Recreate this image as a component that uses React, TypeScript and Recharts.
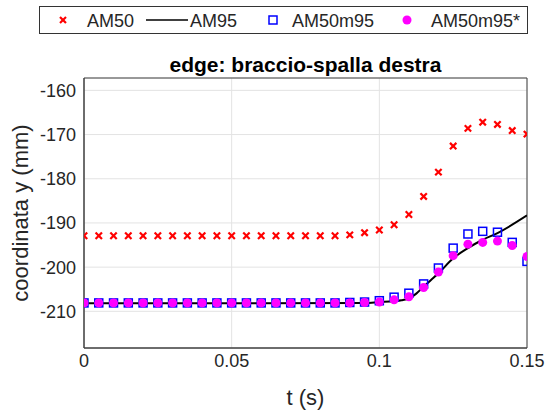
import React from "react";
import {
  ComposedChart,
  Line,
  Scatter,
  XAxis,
  YAxis,
  CartesianGrid,
  ReferenceArea,
} from "recharts";

// time samples (s)
const tValues = [
  0, 0.005, 0.01, 0.015, 0.02, 0.025, 0.03, 0.035, 0.04, 0.045, 0.05, 0.055,
  0.06, 0.065, 0.07, 0.075, 0.08, 0.085, 0.09, 0.095, 0.1, 0.105, 0.11, 0.115,
  0.12, 0.125, 0.13, 0.135, 0.14, 0.145, 0.15,
];

const am50 = [
  -192.9, -192.9, -192.9, -192.9, -192.9, -192.9, -192.9, -192.9, -192.9,
  -192.9, -192.9, -192.9, -192.9, -192.9, -192.9, -192.9, -192.9, -192.9,
  -192.7, -192.2, -191.6, -190.4, -188.1, -184.0, -178.5, -172.6, -168.6,
  -167.2, -167.7, -169.1, -169.9,
];

const am50m95 = [
  -208.1, -208.1, -208.1, -208.1, -208.1, -208.1, -208.1, -208.1, -208.1,
  -208.1, -208.1, -208.1, -208.1, -208.1, -208.1, -208.1, -208.1, -208.1,
  -208.0, -207.9, -207.6, -206.8, -205.9, -203.8, -200.2, -195.7, -192.5,
  -191.9, -192.1, -194.4, -198.7,
];

const am50m95star = [
  -208.1, -208.1, -208.1, -208.1, -208.1, -208.1, -208.1, -208.1, -208.1,
  -208.1, -208.1, -208.1, -208.1, -208.1, -208.1, -208.1, -208.1, -208.1,
  -208.1, -208.0, -207.9, -207.4, -206.7, -204.6, -201.1, -197.4, -194.8,
  -194.4, -194.1, -195.1, -197.6,
];

// AM95 is a continuous curve
const tLine = [
  0, 0.05, 0.095, 0.1, 0.105, 0.1075, 0.11, 0.1125, 0.115, 0.1175, 0.12, 0.125,
  0.13, 0.135, 0.14, 0.145, 0.15,
];
const am95 = [
  -208.2, -208.2, -208.1, -207.9, -207.7, -207.5, -207.1, -206.0, -204.4,
  -202.9, -201.4, -198.0, -195.7, -193.8, -192.3, -190.4, -188.3,
];

const xTicks = [0, 0.05, 0.1, 0.15];
const yTicks = [-210, -200, -190, -180, -170, -160];

const toPoints = (xs: number[], ys: number[]) =>
  xs.map((x, i) => ({ x, y: ys[i] }));

const am50Data = toPoints(tValues, am50);
const am50m95Data = toPoints(tValues, am50m95);
const starData = toPoints(tValues, am50m95star);
const am95Data = toPoints(tLine, am95);

const FONT = "'Liberation Sans', Arial, sans-serif";
const TXT = "#262626";

const Cross = (props: any) => {
  const { cx, cy } = props;
  const s = 3.2;
  return (
    <g stroke="#ff0000" strokeWidth={2.2}>
      <line x1={cx - s} y1={cy - s} x2={cx + s} y2={cy + s} />
      <line x1={cx - s} y1={cy + s} x2={cx + s} y2={cy - s} />
    </g>
  );
};

const Square = (props: any) => {
  const { cx, cy } = props;
  return (
    <rect
      x={cx - 4}
      y={cy - 4}
      width={8}
      height={8}
      fill="none"
      stroke="#0000ff"
      strokeWidth={1.5}
    />
  );
};

const Dot = (props: any) => {
  const { cx, cy } = props;
  return <circle cx={cx} cy={cy} r={4.5} fill="#ff00ff" />;
};

export default function App() {
  return (
    <div
      style={{
        position: "absolute",
        left: 0,
        top: 0,
        width: 549,
        height: 414,
        background: "#fff",
        fontFamily: FONT,
        color: TXT,
      }}
    >
      <ComposedChart
        width={549}
        height={414}
        margin={{ top: 78, right: 22, bottom: 0, left: 0 }}
      >
        <CartesianGrid stroke="#e3e3e3" vertical horizontal />
        <XAxis
          type="number"
          dataKey="x"
          domain={[0, 0.15]}
          ticks={xTicks}
          tickFormatter={(v) => String(v)}
          height={66}
          tickLine={false}
          tickSize={4}
          tickMargin={2}
          axisLine={{ stroke: "#404040" }}
          tick={{ fill: TXT, fontSize: 18, fontFamily: FONT }}
          allowDataOverflow
        />
        <YAxis
          type="number"
          dataKey="y"
          domain={[-218.3, -157.2]}
          ticks={yTicks}
          width={84}
          tickLine={false}
          tickSize={4}
          tickMargin={4}
          axisLine={{ stroke: "#404040" }}
          tick={{ fill: TXT, fontSize: 18, fontFamily: FONT }}
          allowDataOverflow
        />
        <ReferenceArea
          x1={0}
          x2={0.15}
          y1={-218.3}
          y2={-157.2}
          fill="none"
          stroke="#404040"
          strokeWidth={1}
        />
        <Scatter
          name="AM50"
          data={am50Data}
          dataKey="y"
          shape={Cross}
          isAnimationActive={false}
        />
        <Line
          name="AM95"
          data={am95Data}
          dataKey="y"
          type="monotone"
          stroke="#000000"
          strokeWidth={2}
          dot={false}
          activeDot={false}
          isAnimationActive={false}
        />
        <Scatter
          name="AM50m95"
          data={am50m95Data}
          dataKey="y"
          shape={Square}
          isAnimationActive={false}
        />
        <Scatter
          name="AM50m95*"
          data={starData}
          dataKey="y"
          shape={Dot}
          isAnimationActive={false}
        />
      </ComposedChart>

      {/* title */}
      <div
        style={{
          position: "absolute",
          left: 84,
          width: 443,
          top: 52,
          textAlign: "center",
          fontSize: 21,
          fontWeight: "bold",
          lineHeight: "26px",
          color: "#000",
        }}
      >
        edge: braccio-spalla destra
      </div>

      {/* axis labels */}
      <div
        style={{
          position: "absolute",
          left: 84,
          width: 443,
          top: 384,
          textAlign: "center",
          fontSize: 22,
          lineHeight: "28px",
        }}
      >
        t (s)
      </div>
      <div
        style={{
          position: "absolute",
          left: 21,
          top: 213,
          transform: "translate(-50%, -50%) rotate(-90deg)",
          whiteSpace: "nowrap",
          fontSize: 22,
          lineHeight: "26px",
        }}
      >
        coordinata y (mm)
      </div>

      {/* legend */}
      <div
        style={{
          position: "absolute",
          left: 39,
          top: 6,
          width: 489,
          height: 28,
          border: "1px solid #333",
          boxSizing: "border-box",
          background: "#fff",
          fontSize: 18,
        }}
      >
        <svg
          width={489}
          height={28}
          style={{ position: "absolute", left: -1, top: -1 }}
        >
          <g stroke="#ff0000" strokeWidth={2.2}>
            <line x1={21} y1={11} x2={27} y2={17} />
            <line x1={21} y1={17} x2={27} y2={11} />
          </g>
          <line x1={107} y1={14} x2={149} y2={14} stroke="#000" strokeWidth={1.5} />
          <rect x={230} y={10} width={8} height={8} fill="none" stroke="#0000ff" strokeWidth={1.5} />
          <circle cx={368} cy={14} r={4.5} fill="#ff00ff" />
        </svg>
        <span style={{ position: "absolute", left: 47, top: 3, lineHeight: "22px" }}>AM50</span>
        <span style={{ position: "absolute", left: 150, top: 3, lineHeight: "22px" }}>AM95</span>
        <span style={{ position: "absolute", left: 252, top: 3, lineHeight: "22px" }}>AM50m95</span>
        <span style={{ position: "absolute", left: 391, top: 3, lineHeight: "22px" }}>AM50m95*</span>
      </div>
    </div>
  );
}
